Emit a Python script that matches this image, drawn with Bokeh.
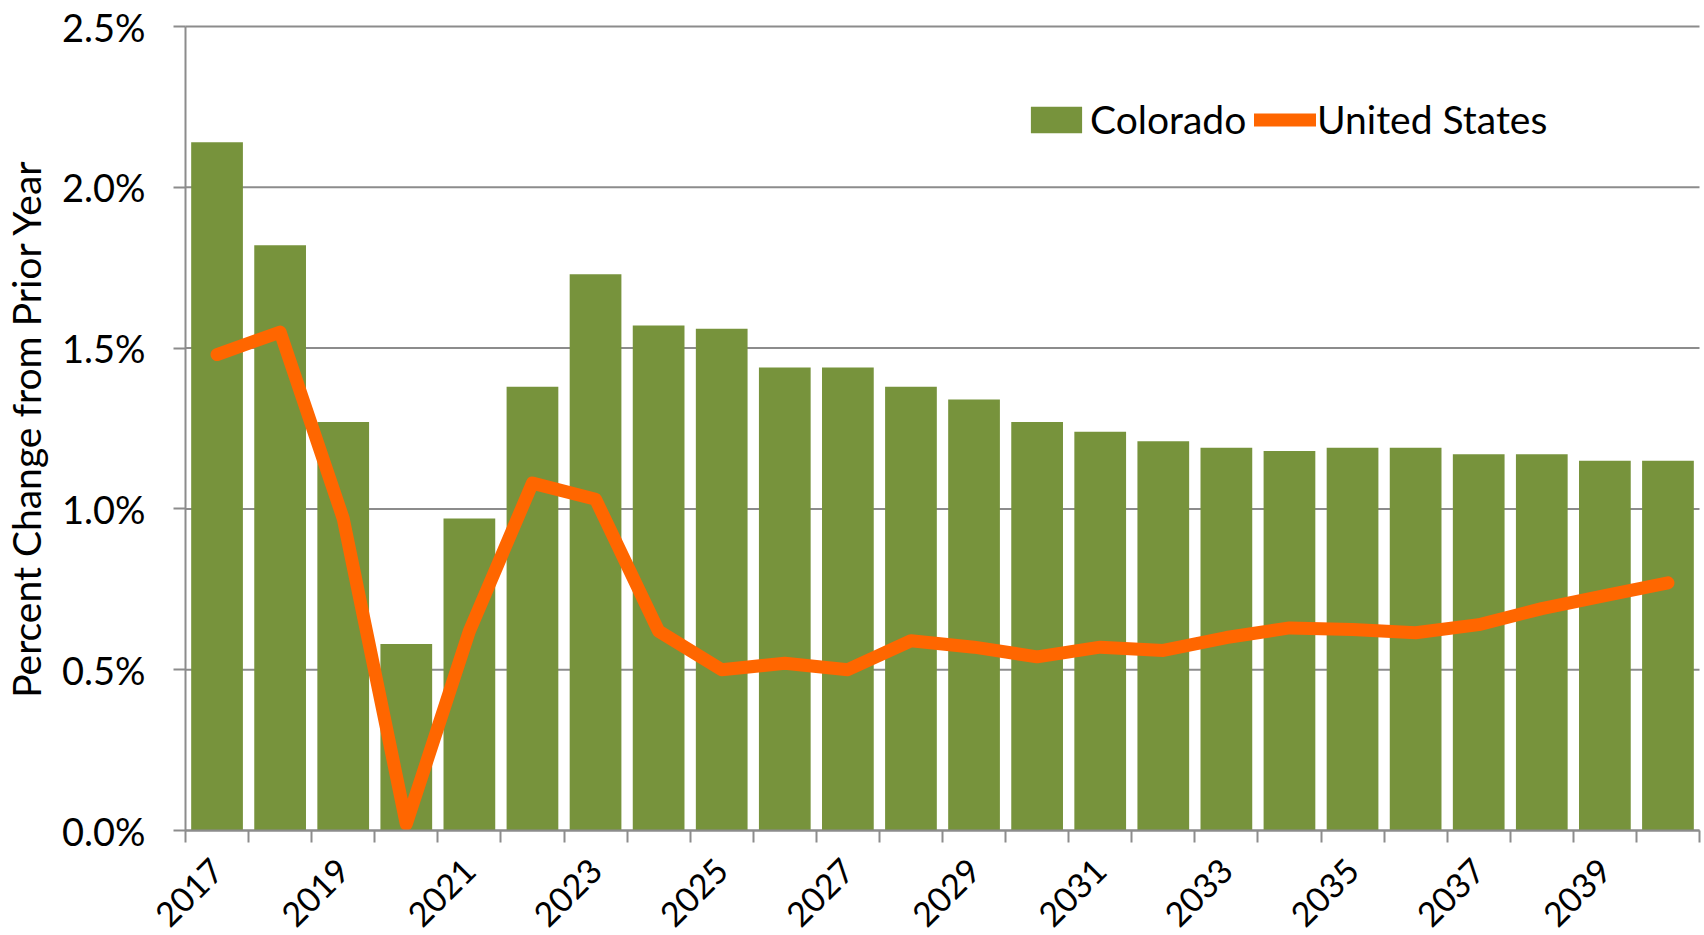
import math
import numpy as np
from bokeh.plotting import figure
from bokeh.models import (Range1d, FixedTicker, PrintfTickFormatter, Legend, LegendItem,
                          ColumnDataSource)
from bokeh.embed import file_html
from bokeh.resources import INLINE

# ---- data ----
years = list(range(2017, 2041))
colorado = [2.14, 1.82, 1.27, 0.58, 0.97, 1.38, 1.73, 1.57, 1.56, 1.44, 1.44, 1.38,
            1.34, 1.27, 1.24, 1.21, 1.19, 1.18, 1.19, 1.19, 1.17, 1.17, 1.15, 1.15]
united_states = [1.48, 1.55, 0.97, 0.02, 0.62, 1.08, 1.03, 0.62, 0.50, 0.52, 0.50, 0.59,
                 0.57, 0.54, 0.57, 0.56, 0.60, 0.63, 0.625, 0.615, 0.64, 0.69, 0.73, 0.77]
y_ticks = [0.0, 0.5, 1.0, 1.5, 2.0, 2.5]

FONT = "Lato"
GREEN = "#77933C"
ORANGE = "#FF6600"
GRAY = "#8c8c8c"

# ---- layout (pixels): the frame fills the whole canvas and the axes are placed
# at x=0 / y=0 inside it, so the chart area spans 185..1699 x 26..830
W, H = 1704, 935
PLOT_L, PLOT_R, PLOT_T, PLOT_B = 185, 1699, 26, 830
n = len(years)
y_top = 2.5
px_x = (PLOT_R - PLOT_L) / n
px_y = (PLOT_B - PLOT_T) / y_top
x_range = Range1d(-PLOT_L / px_x, n + (W - PLOT_R) / px_x)
y_range = Range1d(-(H - PLOT_B) / px_y, y_top + PLOT_T / px_y)

idx = np.arange(n) + 0.5
src = ColumnDataSource(dict(x=idx, year=years, co=colorado, us=united_states))

p = figure(width=W, height=H, output_backend="svg", toolbar_location=None,
           x_range=x_range, y_range=y_range,
           min_border_left=0, min_border_top=0, min_border_bottom=0, min_border_right=0)
p.outline_line_color = None
p.background_fill_color = "white"
p.xgrid.visible = False
p.ygrid.visible = False

# horizontal gridlines across the chart area only
p.segment(x0=[0] * len(y_ticks), x1=[n] * len(y_ticks), y0=y_ticks, y1=y_ticks,
          line_color=GRAY, line_width=2, level="underlay")

bars = p.vbar(x="x", top="co", width=0.82, bottom=0, source=src,
              fill_color=GREEN, line_color=None)
line = p.line(x="x", y="us", source=src, line_color=ORANGE, line_width=13,
              line_cap="round", line_join="round")

# y axis
ya = p.yaxis[0]
ya.fixed_location = 0
ya.bounds = (0, y_top)
ya.ticker = FixedTicker(ticks=y_ticks)
ya.formatter = PrintfTickFormatter(format="%.1f%%")
ya.axis_line_color = GRAY
ya.axis_line_width = 2
ya.major_tick_line_color = GRAY
ya.major_tick_line_width = 2
ya.major_tick_out = 12
ya.major_tick_in = 0
ya.minor_tick_line_color = None
ya.major_label_standoff = 28
ya.major_label_text_font = FONT
ya.major_label_text_font_size = "38px"
ya.major_label_text_color = "black"
ya.axis_label = "Percent Change from Prior Year"
ya.axis_label_text_font = FONT
ya.axis_label_text_font_size = "39px"
ya.axis_label_text_font_style = "normal"
ya.axis_label_text_color = "black"
ya.axis_label_standoff = 10

# x axis: tick marks at category boundaries, year labels every other category
xa = p.xaxis[0]
xa.fixed_location = 0
xa.bounds = (0, n)
xa.ticker = FixedTicker(ticks=[float(idx[i]) for i in range(0, n, 2)],
                        minor_ticks=list(range(n + 1)))
xa.major_label_overrides = {float(idx[i]): str(years[i]) for i in range(0, n, 2)}
xa.axis_line_color = GRAY
xa.axis_line_width = 2
xa.major_tick_line_color = None
xa.major_tick_out = 0
xa.major_tick_in = 0
xa.minor_tick_line_color = GRAY
xa.minor_tick_line_width = 2
xa.minor_tick_out = 12
xa.minor_tick_in = 0
xa.major_label_orientation = math.pi / 4
xa.major_label_standoff = 22
xa.major_label_text_font = FONT
xa.major_label_text_font_size = "34px"
xa.major_label_text_color = "black"

common = dict(orientation="horizontal", padding=0, margin=0, spacing=0,
              border_line_color=None, background_fill_alpha=0,
              label_text_font=FONT, label_text_font_size="39px", label_text_color="black")
legend_co = Legend(items=[LegendItem(label="Colorado", renderers=[bars])],
                   location=(1024, 793), glyph_width=64, glyph_height=33,
                   label_standoff=2, **common)
legend_us = Legend(items=[LegendItem(label="United States", renderers=[line])],
                   location=(1254, 793), glyph_width=62, glyph_height=33,
                   label_standoff=1, **common)
p.add_layout(legend_co, "center")
p.add_layout(legend_us, "center")

open("out.html", "w").write(file_html(p, INLINE))
